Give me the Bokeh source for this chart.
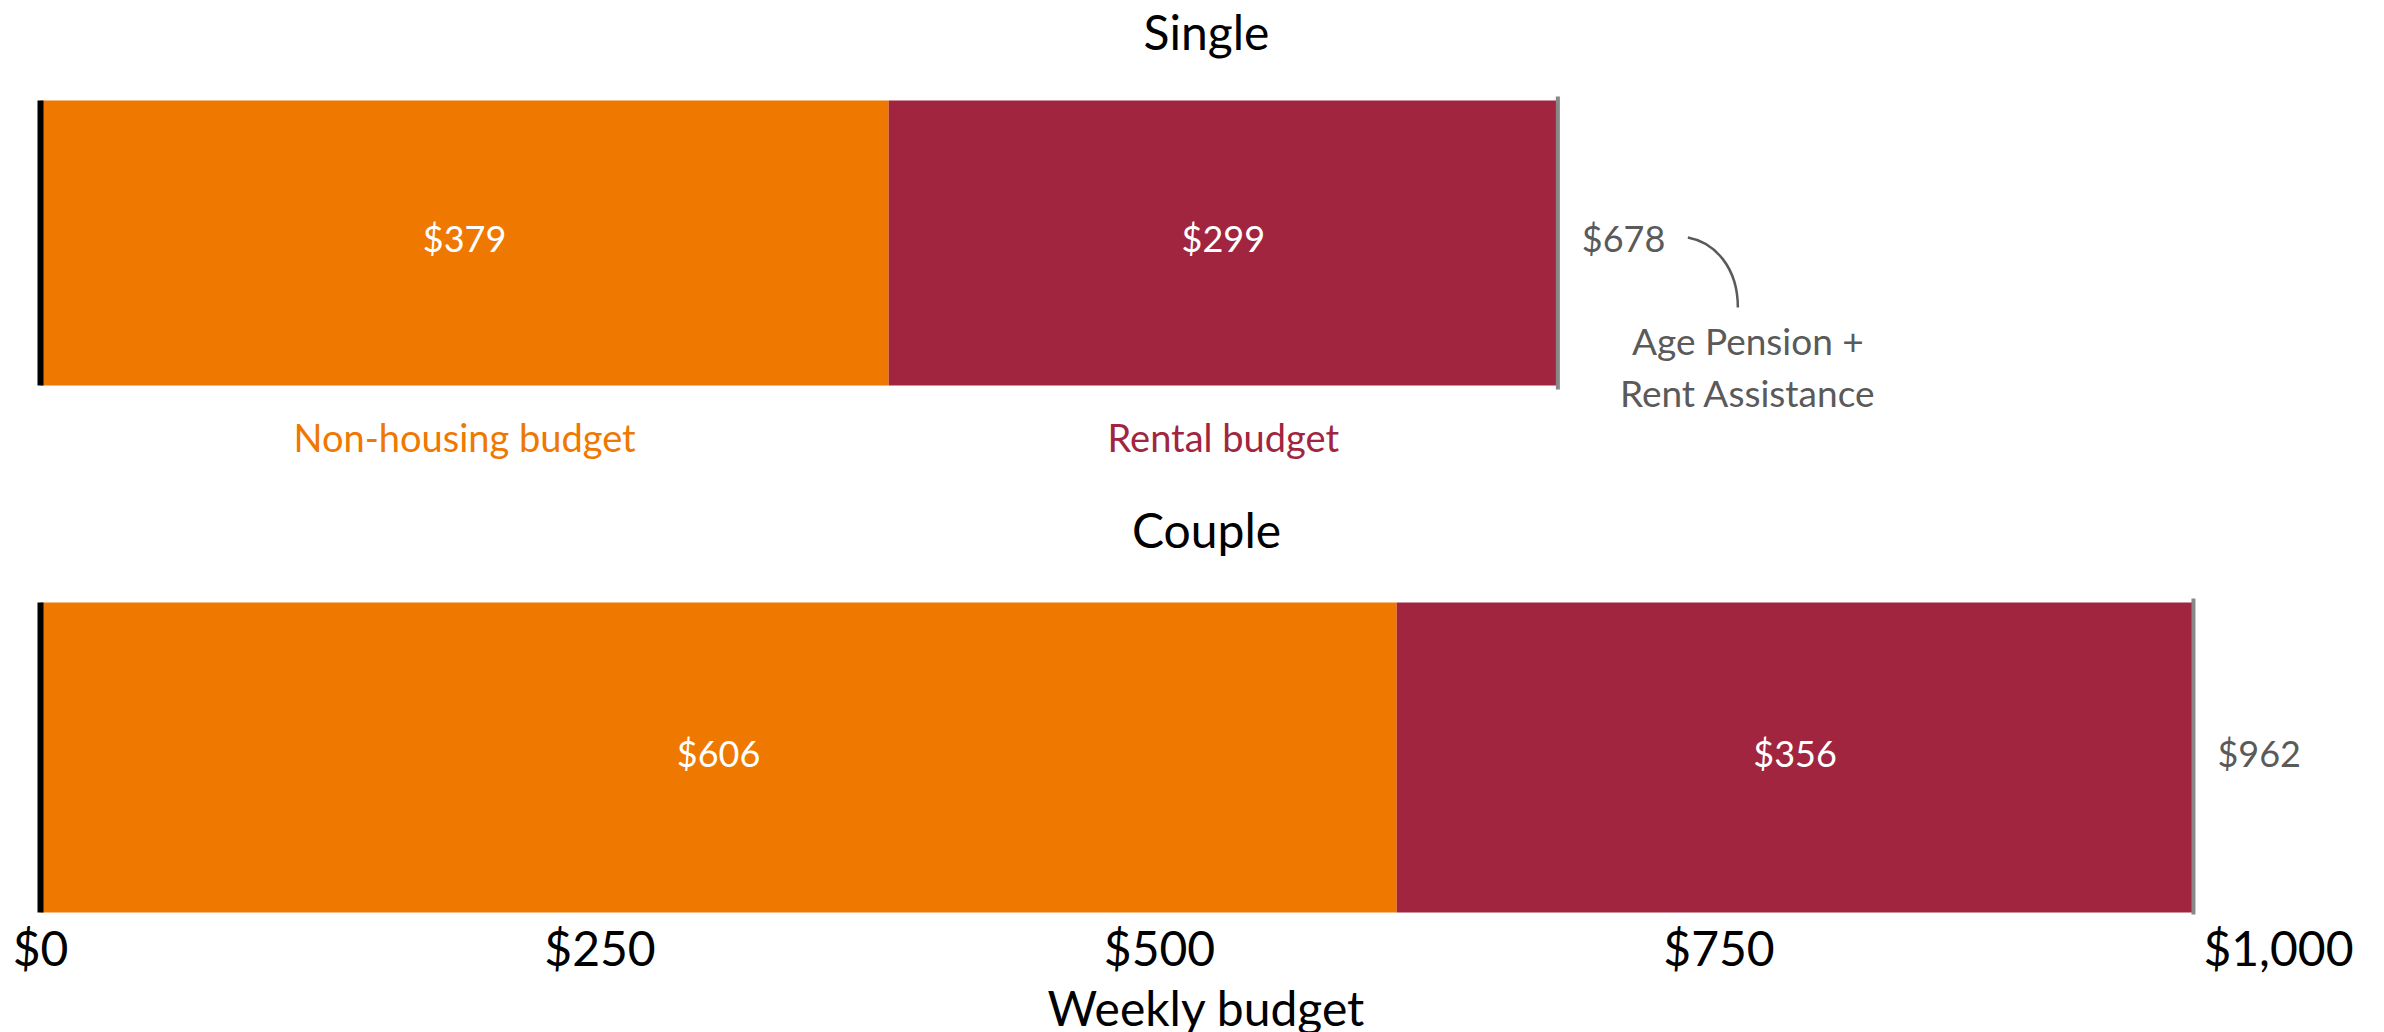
from bokeh.plotting import figure
from bokeh.models import ColumnDataSource, Range1d, FixedTicker, NumeralTickFormatter
from bokeh.core.properties import value
from bokeh.embed import file_html
from bokeh.resources import INLINE

# ---------------- data ----------------
households = ["Single", "Couple"]
non_housing = [379, 606]
rental = [299, 356]
tick_values = [0, 250, 500, 750, 1000]
segment_names = ["Non-housing budget", "Rental budget"]
annotation_lines = ["Age Pension +", "Rent Assistance"]
axis_title = "Weekly budget"

totals = [a + b for a, b in zip(non_housing, rental)]

# ---------------- layout / style ----------------
FONT = "Lato"
ORANGE = "#EF7800"
RED = "#A1253F"
GREY_TXT = "#5a5a5a"
FRAME_W, FRAME_H = 2340, 914
BORDER_L = 36
PX = 2.238                      # pixels per dollar
X_START = -4 / PX
X_END = X_START + FRAME_W / PX
row_top = [100, 602]            # frame px from top
row_bottom = [385, 912]
title_y = [31, 529]
row_center = [(t + b) / 2 for t, b in zip(row_top, row_bottom)]
row_height = [b - t for t, b in zip(row_top, row_bottom)]
label_y = [c - 5 for c in row_center]

p = figure(frame_width=FRAME_W, frame_height=FRAME_H, output_backend="svg",
           toolbar_location=None, x_range=Range1d(X_START, X_END),
           y_range=Range1d(FRAME_H, 0), min_border_left=BORDER_L,
           min_border_right=0, min_border_top=0, min_border_bottom=0)
p.outline_line_color = None
p.grid.visible = False
p.yaxis.visible = False
p.background_fill_color = "white"

src = ColumnDataSource(dict(
    y=row_center, h=row_height, ly=label_y, nh=non_housing, tot=totals,
    zero=[0, 0], top=row_top, bot=row_bottom,
    top2=[t - 4 for t in row_top], bot2=[b + 4 for b in row_bottom],
    nh_mid=[v / 2 for v in non_housing],
    r_mid=[n + r / 2 for n, r in zip(non_housing, rental)],
    nh_lab=[f"${v}" for v in non_housing],
    r_lab=[f"${v}" for v in rental],
    tot_lab=[f"${v}" for v in totals],
    title=households, ty=title_y,
    tx=[(X_START + X_END) / 2] * 2,
))

p.hbar(y="y", height="h", left="zero", right="nh", color=ORANGE, line_color=None, source=src)
p.hbar(y="y", height="h", left="nh", right="tot", color=RED, line_color=None, source=src)
p.segment(x0="zero", x1="zero", y0="top", y1="bot", line_color="black", line_width=6, source=src)
p.segment(x0="tot", x1="tot", y0="top2", y1="bot2", line_color="#888888", line_width=4, source=src)

p.text(x="nh_mid", y="ly", text="nh_lab", text_color="white", text_font=value(FONT),
       text_font_size="36px", text_align="center", text_baseline="middle", source=src)
p.text(x="r_mid", y="ly", text="r_lab", text_color="white", text_font=value(FONT),
       text_font_size="36px", text_align="center", text_baseline="middle", source=src)
p.text(x="tot", y="ly", text="tot_lab", text_color=GREY_TXT, text_font=value(FONT),
       text_font_size="36px", text_align="left", text_baseline="middle", x_offset=24, source=src)
p.text(x="tx", y="ty", text="title", text_color="black", text_font=value(FONT),
       text_font_size="48px", text_align="center", text_baseline="middle", source=src)

# category labels under the single bar
p.text(x=[non_housing[0] / 2, non_housing[0] + rental[0] / 2], y=[436, 436],
       text=segment_names, text_color=[ORANGE, RED], text_font=value(FONT),
       text_font_size="38px", text_align="center", text_baseline="middle")

# annotation for single total
t0 = totals[0]
p.text(x=[t0, t0], y=[340, 392], text=annotation_lines, x_offset=190,
       text_color=GREY_TXT, text_font=value(FONT), text_font_size="37px",
       text_align="center", text_baseline="middle")
p.bezier(x0=[t0 + 130 / PX], y0=[237], x1=[t0 + 180 / PX], y1=[307],
         cx0=[t0 + 157 / PX], cy0=[242], cx1=[t0 + 180 / PX], cy1=[267],
         line_color=GREY_TXT, line_width=2.5)

ax = p.xaxis[0]
ax.ticker = FixedTicker(ticks=tick_values)
ax.formatter = NumeralTickFormatter(format="$0,0")
ax.axis_line_color = None
ax.major_tick_line_color = None
ax.minor_tick_line_color = None
ax.major_label_text_font = FONT
ax.major_label_text_font_size = "48px"
ax.major_label_text_color = "black"
ax.major_label_standoff = -2
ax.axis_label = axis_title
ax.axis_label_text_font = FONT
ax.axis_label_text_font_size = "48px"
ax.axis_label_text_font_style = "normal"
ax.axis_label_text_color = "black"
ax.axis_label_standoff = 0

open("out.html", "w").write(file_html(p, INLINE))
